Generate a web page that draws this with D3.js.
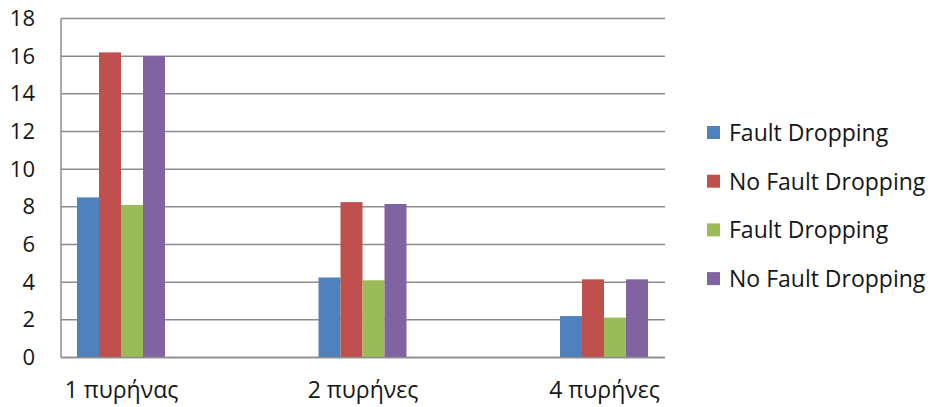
<!DOCTYPE html>
<html>
<head>
<meta charset="utf-8">
<script src="https://cdn.jsdelivr.net/npm/d3@7"></script>
<style>
  html, body { margin: 0; padding: 0; background: #fff; }
  svg text { font-family: "Open Sans", Lato, sans-serif; fill: #161616; }
</style>
</head>
<body>
<svg id="chart" width="930" height="407"></svg>
<script>
// Categories (number of cores) and the four series
const categories = ["1 πυρήνας", "2 πυρήνες", "4 πυρήνες"];
const seriesNames = ["Fault Dropping", "No Fault Dropping", "Fault Dropping", "No Fault Dropping"];
const seriesColors = ["#4F81BD", "#C0504D", "#9BBB59", "#8064A2"];
const series1 = [8.5, 4.25, 2.2];
const series2 = [16.2, 8.25, 4.15];
const series3 = [8.1, 4.1, 2.12];
const series4 = [16.0, 8.15, 4.15];
const yTicks = [0, 2, 4, 6, 8, 10, 12, 14, 16, 18];

const allSeries = [series1, series2, series3, series4];

const svg = d3.select("#chart");
const plot = { left: 61, right: 665, top: 18.5, bottom: 357.5 };

const y = d3.scaleLinear().domain([0, 18]).range([plot.bottom, plot.top]);
const x = d3.scalePoint().domain(categories).range([121, 604]);
const inner = d3.scaleBand().domain(d3.range(allSeries.length)).range([-44, 44]).padding(0);

// Horizontal gridlines
svg.append("g")
  .selectAll("line")
  .data(yTicks)
  .join("line")
  .attr("x1", plot.left)
  .attr("x2", plot.right)
  .attr("y1", d => y(d))
  .attr("y2", d => y(d))
  .attr("stroke", "#8c8c8c")
  .attr("stroke-width", 1.5);

// Left axis line
svg.append("line")
  .attr("x1", plot.left).attr("x2", plot.left)
  .attr("y1", plot.top).attr("y2", plot.bottom)
  .attr("stroke", "#8c8c8c").attr("stroke-width", 1.5);

// Y axis tick labels
const yAxis = d3.axisLeft(y).tickValues(yTicks).tickSize(0).tickPadding(0);
const yg = svg.append("g").attr("transform", "translate(35,0)").call(yAxis);
yg.select(".domain").remove();
yg.selectAll("text")
  .attr("font-size", 22)
  .attr("fill", "#161616")
  .style("font-family", "'Open Sans', sans-serif");

// Bars
const groups = svg.append("g")
  .selectAll("g")
  .data(allSeries)
  .join("g")
  .attr("fill", (d, i) => seriesColors[i]);

groups.each(function(vals, si) {
  d3.select(this).selectAll("rect")
    .data(vals)
    .join("rect")
    .attr("x", (v, ci) => x(categories[ci]) + inner(si))
    .attr("width", inner.bandwidth())
    .attr("y", v => y(v))
    .attr("height", v => y(0) - y(v));
});

// Baseline drawn over the bars
svg.append("line")
  .attr("x1", plot.left).attr("x2", plot.right)
  .attr("y1", y(0)).attr("y2", y(0))
  .attr("stroke", "#8c8c8c").attr("stroke-width", 1.5);

// Category labels
const xAxis = d3.axisBottom(x).tickSize(0).tickPadding(0);
const xg = svg.append("g").attr("transform", "translate(0,398)").call(xAxis);
xg.select(".domain").remove();
xg.selectAll("text")
  .attr("dy", 0)
  .attr("y", 0)
  .attr("font-size", 23)
  .attr("fill", "#161616")
  .style("font-family", "'Open Sans', sans-serif");

// Legend
const legend = svg.append("g")
  .selectAll("g")
  .data(seriesNames)
  .join("g")
  .attr("transform", (d, i) => `translate(707, ${133 + i * 48.7})`);

legend.append("rect")
  .attr("x", 0).attr("y", -7)
  .attr("width", 13).attr("height", 13)
  .attr("fill", (d, i) => seriesColors[i]);

legend.append("text")
  .attr("x", 22)
  .attr("y", 8)
  .attr("font-size", 23)
  .text(d => d);
</script>
</body>
</html>
